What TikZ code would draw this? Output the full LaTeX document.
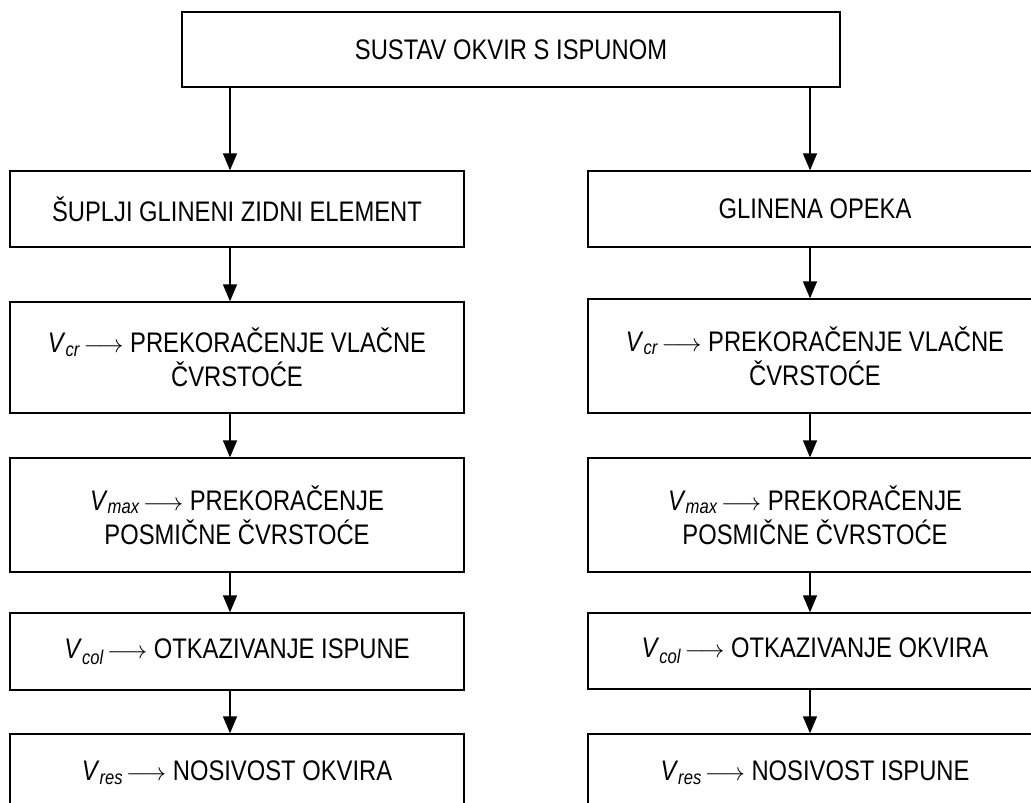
\documentclass[tikz,border=0pt]{standalone}
\usepackage{fontspec}
\setmainfont{Liberation Sans}[FakeStretch=0.84]
\usetikzlibrary{arrows.meta}
\newcommand{\sila}[1]{\textit{V}\textsubscript{\textit{#1}}\hspace{3pt}$\longrightarrow$}
\begin{document}
\begin{tikzpicture}[x=1pt, y=-1pt, >={Triangle[length=17pt, width=14pt]},
    font=\fontsize{28.3}{34}\selectfont,
    okvir/.style={draw, line width=1.3pt, align=center, inner sep=0pt, minimum width=454pt}]
    % 1. Okvir slike
    \useasboundingbox (0,0) rectangle (1031,803);
    \clip (0,0) rectangle (1031,803);
    \coordinate (lijevo) at (230,0);
    \coordinate (desno) at (810,0);

    % 2. Sustav
    \node[okvir, minimum width=658pt, minimum height=75pt] (sustav) at (511,49.5) {SUSTAV OKVIR S ISPUNOM};

    % 3. Lijevi stupac
    \node[okvir, minimum height=76pt] (L1) at (237,209) {ŠUPLJI GLINENI ZIDNI ELEMENT};
    \node[okvir, minimum height=111pt] (L2) at (237,357.5) {\sila{cr} PREKORAČENJE VLAČNE\\ČVRSTOĆE};
    \node[okvir, minimum height=114pt] (L3) at (237,515) {\sila{max} PREKORAČENJE\\POSMIČNE ČVRSTOĆE};
    \node[okvir, minimum height=77pt] (L4) at (237,651.5) {\sila{col} OTKAZIVANJE ISPUNE};
    \node[okvir, minimum height=77pt] (L5) at (237,772.5) {\sila{res} NOSIVOST OKVIRA};

    % 4. Desni stupac
    \node[okvir, minimum height=76pt] (R1) at (815,209) {GLINENA OPEKA};
    \node[okvir, minimum height=114pt] (R2) at (815,356) {\sila{cr} PREKORAČENJE VLAČNE\\ČVRSTOĆE};
    \node[okvir, minimum height=114pt] (R3) at (815,515) {\sila{max} PREKORAČENJE\\POSMIČNE ČVRSTOĆE};
    \node[okvir, minimum height=76pt] (R4) at (815,651) {\sila{col} OTKAZIVANJE OKVIRA};
    \node[okvir, minimum height=77pt] (R5) at (815,772.5) {\sila{res} NOSIVOST ISPUNE};

    % 5. Strelice
    \draw[->, line width=1.3pt] (sustav.south -| lijevo) -- (L1.north -| lijevo);
    \draw[->, line width=1.3pt] (sustav.south -| desno) -- (R1.north -| desno);
    \foreach \a/\b in {1/2, 2/3, 3/4, 4/5} {
        \draw[->, line width=1.3pt] (L\a.south -| lijevo) -- (L\b.north -| lijevo);
        \draw[->, line width=1.3pt] (R\a.south -| desno) -- (R\b.north -| desno);
    }
\end{tikzpicture}
\end{document}
